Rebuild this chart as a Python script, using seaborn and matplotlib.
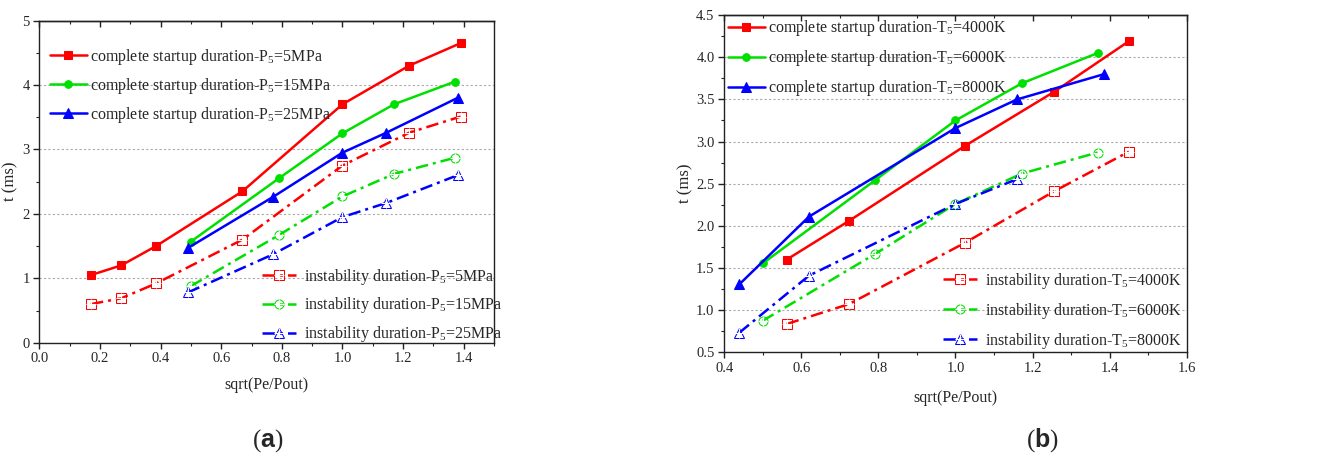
import numpy as np
import pandas as pd
import seaborn as sns
import matplotlib.pyplot as plt
from matplotlib.ticker import MultipleLocator, FormatStrFormatter

sns.set_theme(style="ticks")
plt.rcParams["font.family"] = ["Liberation Serif", "DejaVu Serif"]
plt.rcParams["mathtext.fontset"] = "custom"
plt.rcParams["mathtext.rm"] = "Liberation Serif"
plt.rcParams["mathtext.it"] = "Liberation Serif:italic"
plt.rcParams["mathtext.bf"] = "Liberation Sans:bold"

# ---- panel (a): stagnation pressure P5 ----
a_x_5 = [0.17, 0.27, 0.385, 0.67, 1.0, 1.22, 1.39]
a_x_15 = [0.50, 0.79, 1.0, 1.17, 1.37]
a_x_25 = [0.49, 0.77, 1.0, 1.145, 1.38]
a_full_5 = [1.05, 1.20, 1.50, 2.35, 3.70, 4.30, 4.65]
a_full_15 = [1.57, 2.55, 3.25, 3.70, 4.05]
a_full_25 = [1.47, 2.26, 2.95, 3.26, 3.80]
a_inst_5 = [0.60, 0.69, 0.92, 1.60, 2.75, 3.26, 3.51]
a_inst_15 = [0.88, 1.67, 2.27, 2.62, 2.87]
a_inst_25 = [0.78, 1.37, 1.95, 2.17, 2.60]
a_levels = ["5MPa", "15MPa", "25MPa"]

# ---- panel (b): stagnation temperature T5 ----
b_x_4000 = [0.562, 0.724, 1.025, 1.256, 1.45]
b_x_6000 = [0.50, 0.791, 1.0, 1.172, 1.369]
b_x_8000 = [0.439, 0.62, 1.0, 1.16, 1.386]
b_x_8000_inst = [0.439, 0.62, 1.0, 1.16]
b_full_4000 = [1.60, 2.06, 2.95, 3.59, 4.19]
b_full_6000 = [1.555, 2.54, 3.25, 3.69, 4.05]
b_full_8000 = [1.306, 2.11, 3.16, 3.50, 3.80]
b_inst_4000 = [0.836, 1.073, 1.80, 2.41, 2.88]
b_inst_6000 = [0.875, 1.666, 2.26, 2.62, 2.87]
b_inst_8000 = [0.733, 1.41, 2.26, 2.555]
b_levels = ["4000K", "6000K", "8000K"]

RED, GREEN, BLUE = "#ff0000", "#00e000", "#0000ff"
COLORS = [RED, GREEN, BLUE]
FULL_MARKERS = ["s", "o", "^"]
FULL_SIZES = [5.5, 5.5, 6.5]
INST_MARKERS = ["s", "o", "^"]
DASHDOT = (0, (5, 2, 1.2, 2))
LW = 1.8
LEG_FS = 11.5

fig = plt.figure(figsize=(13.38, 4.57), dpi=100)
ax_a = fig.add_axes([0.0294, 0.250, 0.3398, 0.705])
ax_b = fig.add_axes([0.5413, 0.229, 0.3456, 0.738])


def draw_panel(ax, full_sets, inst_sets):
    full_handles, inst_handles = [], []
    for (x, y), c, m, ms in zip(full_sets, COLORS, FULL_MARKERS, FULL_SIZES):
        sns.lineplot(x=x, y=y, ax=ax, color=c, marker=m, markersize=ms,
                     markeredgecolor=c, linewidth=LW, sort=False,
                     estimator=None, legend=False)
        full_handles.append(ax.lines[-1])
    for (x, y), c, m in zip(inst_sets, COLORS, INST_MARKERS):
        sns.lineplot(x=x, y=y, ax=ax, color=c, linestyle=DASHDOT, marker=m,
                     markersize=6.5, markerfacecolor="none", markeredgecolor=c,
                     markeredgewidth=0.75, linewidth=LW, sort=False,
                     estimator=None, legend=False)
        line = ax.lines[-1]
        sns.lineplot(x=x, y=y, ax=ax, color=c, linestyle="none", marker="+",
                     markersize=7, markeredgewidth=0.8, sort=False,
                     estimator=None, legend=False)
        cross = ax.lines[-1]
        inst_handles.append((line, cross))
    return full_handles, inst_handles


def style_axes(ax, xlim, ylim, xmaj, ymaj, yfmt):
    ax.set_xlim(*xlim)
    ax.set_ylim(*ylim)
    ax.xaxis.set_major_locator(MultipleLocator(xmaj))
    ax.xaxis.set_minor_locator(MultipleLocator(xmaj / 2))
    ax.yaxis.set_major_locator(MultipleLocator(ymaj))
    ax.yaxis.set_minor_locator(MultipleLocator(ymaj / 2))
    ax.xaxis.set_major_formatter(FormatStrFormatter("%.1f"))
    ax.yaxis.set_major_formatter(FormatStrFormatter(yfmt))
    ax.tick_params(which="major", direction="out", length=4, width=1,
                   labelsize=10.5, color="#222222", pad=3)
    ax.tick_params(which="minor", direction="out", length=2.5, width=0.8,
                   color="#222222")
    ax.yaxis.grid(True, which="major", linestyle=(0, (2, 2)),
                  color="#aaaaaa", linewidth=0.8)
    ax.set_axisbelow(True)
    for s in ax.spines.values():
        s.set_visible(True)
        s.set_linewidth(1.0)
        s.set_color("#222222")
    top = ax.secondary_xaxis("top")
    top.xaxis.set_major_locator(MultipleLocator(xmaj))
    top.xaxis.set_minor_locator(MultipleLocator(xmaj / 2))
    top.tick_params(which="major", direction="in", length=4, width=1,
                    labeltop=False, color="#222222")
    top.tick_params(which="minor", direction="in", length=2.5, width=0.8,
                    color="#222222")
    top.spines["top"].set_linewidth(1.0)
    top.spines["top"].set_color("#222222")


def add_legends(ax, fh, ih, lf, li, pos1, pos2, spacing):
    leg1 = ax.legend(fh, lf, loc="upper left", bbox_to_anchor=pos1,
                     frameon=False, fontsize=LEG_FS, handlelength=2.3,
                     handletextpad=0.2, labelspacing=spacing, borderpad=0,
                     borderaxespad=0)
    ax.add_artist(leg1)
    ax.legend(ih, li, loc="upper left", bbox_to_anchor=pos2,
              frameon=False, fontsize=LEG_FS, handlelength=2.1,
              handletextpad=0.5, labelspacing=spacing, borderpad=0,
              borderaxespad=0)


# panel (a)
fa, ia = draw_panel(
    ax_a,
    [(a_x_5, a_full_5), (a_x_15, a_full_15), (a_x_25, a_full_25)],
    [(a_x_5, a_inst_5), (a_x_15, a_inst_15), (a_x_25, a_inst_25)])
style_axes(ax_a, (0, 1.5), (0, 5), 0.2, 1, "%d")
add_legends(ax_a, fa, ia,
            [r"complete startup duration-P$_\mathregular{5}$=" + v for v in a_levels],
            [r"instability duration-P$_\mathregular{5}$=" + v for v in a_levels],
            (0.023, 0.918), (0.49, 0.236), 0.55)
ax_a.set_xlabel("sqrt(Pe/Pout)", fontsize=11.5, labelpad=8)
ax_a.set_ylabel("t (ms)", fontsize=12, labelpad=3)

# panel (b)
fb, ib = draw_panel(
    ax_b,
    [(b_x_4000, b_full_4000), (b_x_6000, b_full_6000), (b_x_8000, b_full_8000)],
    [(b_x_4000, b_inst_4000), (b_x_6000, b_inst_6000), (b_x_8000_inst, b_inst_8000)])
style_axes(ax_b, (0.4, 1.6), (0.5, 4.5), 0.2, 0.5, "%.1f")
add_legends(ax_b, fb, ib,
            [r"complete startup duration-T$_\mathregular{5}$=" + v for v in b_levels],
            [r"instability duration-T$_\mathregular{5}$=" + v for v in b_levels],
            (0.008, 0.99), (0.473, 0.242), 0.62)
ax_b.set_xlabel("sqrt(Pe/Pout)", fontsize=11.5, labelpad=11)
ax_b.set_ylabel("t (ms)", fontsize=12, labelpad=2)

fig.text(0.200, 0.022, r"($\mathbf{a}$)", fontsize=18, ha="center")
fig.text(0.779, 0.022, r"($\mathbf{b}$)", fontsize=18, ha="center")

fig.savefig("out.png", dpi=100)
